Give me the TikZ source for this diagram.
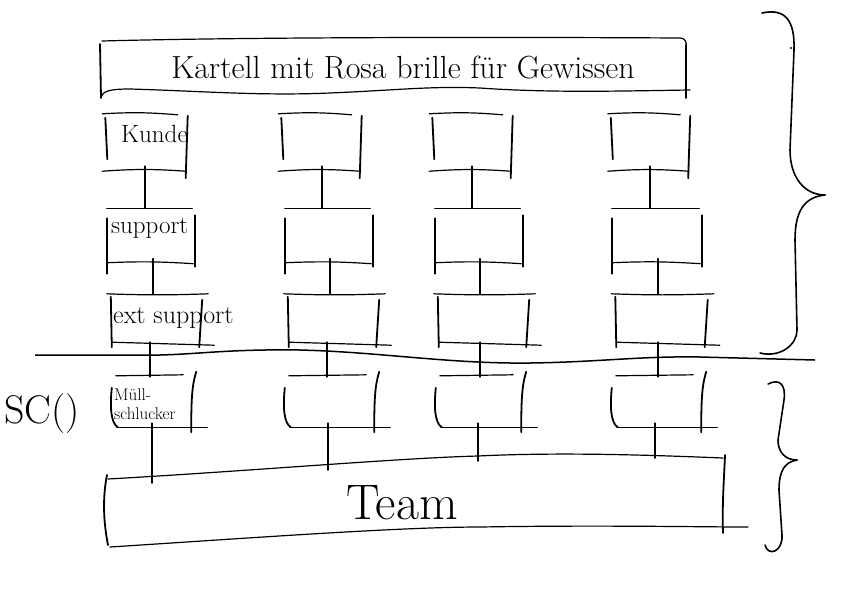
\documentclass[tikz,border=0pt]{standalone}
\usepackage{fontspec}
\newcommand{\sketchA}[1]{%
  \draw[hline] ([xshift=-2pt,yshift=1pt]#1.north west) to[bend left=4] ([xshift=-10pt]#1.north east);
  \draw[vline] ([xshift=1pt,yshift=-3pt]#1.north west) -- ([xshift=3pt,yshift=12pt]#1.south west);
  \draw[vline] ([yshift=-1pt]#1.north east) -- ([xshift=-2pt,yshift=-7pt]#1.south east);
  \draw[hline] ([xshift=-2pt]#1.south west) to[bend left=4] ([xshift=-2pt]#1.south east);}
\newcommand{\sketchB}[1]{%
  \draw[hline] ([xshift=0pt]#1.north west) -- ([xshift=-3pt]#1.north east);
  \draw[vline] ([yshift=-10pt]#1.north west) -- ([yshift=-10pt]#1.south west);
  \draw[vline] ([yshift=-7pt]#1.north east) -- ([yshift=-3pt]#1.south east);
  \draw[hline] ([xshift=1pt,yshift=1pt]#1.south west) to[bend left=3] ([xshift=-2pt]#1.south east);}
\newcommand{\sketchC}[1]{%
  \draw[hline] ([xshift=-3pt]#1.north west) to[bend right=2] ([xshift=6pt]#1.north east);
  \draw[vline] ([xshift=1pt,yshift=-3pt]#1.north west) -- ([xshift=2pt,yshift=-3pt]#1.south west);
  \draw[vline] ([yshift=-6pt]#1.north east) -- ([xshift=-3pt,yshift=-3pt]#1.south east);
  \draw[hline] ([xshift=2pt,yshift=2pt]#1.south west) -- ([xshift=12pt,yshift=-1pt]#1.south east);}
\newcommand{\sketchD}[1]{%
  \draw[hline] ([xshift=3pt,yshift=1pt]#1.north west) -- ([xshift=-10pt,yshift=2pt]#1.north east);
  \draw[vline] ([xshift=-1pt,yshift=-11pt]#1.north west) .. controls ([xshift=-3pt,yshift=-30pt]#1.north west) and ([xshift=-2pt,yshift=4pt]#1.south west) .. ([xshift=5pt]#1.south west);
  \draw[vline] ([xshift=3pt,yshift=5pt]#1.north east) .. controls ([xshift=-1pt,yshift=-8pt]#1.north east) and ([xshift=-2pt,yshift=-20pt]#1.north east) .. ([xshift=-2pt,yshift=-5pt]#1.south east);
  \draw[hline] ([xshift=4pt]#1.south west) -- ([xshift=14pt]#1.south east);}
\begin{document}
\begin{tikzpicture}[x=1pt,y=-1pt,
  hline/.style={line width=1.2pt,line cap=round},
  vline/.style={line width=1.8pt,line cap=round},
  cell/.style n args={2}{draw=none,inner sep=0pt,minimum width=#1pt,minimum height=#2pt},
  lbl/.style={inner sep=0pt,anchor=west,font=\fontsize{25}{27}\selectfont}]
\useasboundingbox (0,0) rectangle (842,595);

% header
\node[font=\fontsize{32}{34}\selectfont,inner sep=0pt] (head) at (403,68) {Kartell mit Rosa brille für Gewissen};
\draw[hline] (102,41) .. controls (250,37) and (500,37) .. (680,38) .. controls (685,38) and (687,42) .. (686,47);
\draw[vline] (100,44) -- (101,98);
\draw[vline] (686,45) -- (686,98);
\draw[hline] (101,97) .. controls (103,91) and (110,89) .. (130,89) .. controls (200,91) and (260,96) .. (330,93) .. controls (400,90) and (430,86) .. (480,88) .. controls (550,93) and (620,91) .. (690,90);

% boxes row 1
\node[cell={83}{56}] (k1) at (146,143) {};
\node[cell={81}{56}] (k2) at (321,143) {};
\node[cell={81}{56}] (k3) at (472,143) {};
\node[cell={80}{56}] (k4) at (650,143) {};
% row 2
\node[cell={88}{55}] (s1) at (151,236) {};
\node[cell={88}{55}] (s2) at (329,236) {};
\node[cell={88}{55}] (s3) at (479,236) {};
\node[cell={90}{55}] (s4) at (657,236) {};
% row 3
\node[cell={92}{50}] (e1) at (156,319) {};
\node[cell={92}{50}] (e2) at (333,319) {};
\node[cell={92}{50}] (e3) at (483,319) {};
\node[cell={93}{50}] (e4) at (661,319) {};
% row 4
\node[cell={80}{50}] (m1) at (153,402) {};
\node[cell={90}{50}] (m2) at (331,402) {};
\node[cell={86}{50}] (m3) at (480,402) {};
\node[cell={90}{50}] (m4) at (658,402) {};

\foreach \n in {k1,k2,k3,k4} {\sketchA{\n}}
\foreach \n in {s1,s2,s3,s4} {\sketchB{\n}}
\foreach \n in {e1,e2,e3,e4} {\sketchC{\n}}
\foreach \n in {m1,m2,m3,m4} {\sketchD{\n}}

% labels
\node[lbl] (lk) at (121,134) {Kunde};
\node[lbl] (ls) at (111,228) {support};
\node[lbl,font=\fontsize{26}{28}\selectfont] (le) at (113,318) {ext support};
\node[lbl,font=\fontsize{17}{19}\selectfont,align=left] (lm) at (114,404) {Müll-\\schlucker};
\node[inner sep=0pt,font=\fontsize{40}{42}\selectfont] (sco) at (42,414) {SC()};

% connectors k -> s -> e -> m
\foreach \c/\dx in {1/-1,2/1,3/0,4/0} {
  \draw[vline] ([xshift=\dx pt,yshift=5pt]k\c.south) -- ([xshift=\dx pt]k\c.south |- s\c.north);}
\foreach \c/\dx in {1/2,2/1,3/1,4/1} {
  \draw[vline] ([xshift=\dx pt,yshift=5pt]s\c.south) -- ([xshift=\dx pt]s\c.south |- e\c.north);}
\foreach \c/\dx in {1/-6,2/-6,3/-3,4/-3} {
  \draw[vline] ([xshift=\dx pt,yshift=2pt]e\c.south) -- ([xshift=\dx pt]e\c.south |- m\c.north);}

% divider
\draw[line width=1.5pt] (35,355) -- (160,355) .. controls (200,354) and (230,349) .. (300,350) .. controls (380,352) and (450,364) .. (530,363) .. controls (600,362) and (640,356) .. (700,357) -- (815,360);

% team
\coordinate (t1) at (152,483);
\coordinate (t2) at (328,470);
\coordinate (t3) at (478,461);
\coordinate (t4) at (655,458);
\node[inner sep=0pt,font=\fontsize{50}{52}\selectfont] (team) at (402,503) {Team};
\draw[hline] (108,479) .. controls (250,471) and (400,458) .. (478,456) .. controls (560,452) and (650,455) .. (723,458);
\draw[hline] (110,547) .. controls (250,538) and (400,527) .. (480,527) .. controls (600,525) and (700,527) .. (748,527);
\draw[vline] (107,475) .. controls (102,500) and (104,525) .. (108,545);
\draw[vline] (725,455) .. controls (724,480) and (722,505) .. (723,533);
\foreach \c in {1,2,3,4} {\draw[vline] ([yshift=4pt]m\c.south -| t\c) -- (t\c);}

% braces
\draw[line width=1.6pt,line cap=round] (762,13) .. controls (785,8) and (795,20) .. (794,50) -- (790,150) .. controls (790,178) and (805,195) .. (825,195);
\draw[line width=1.6pt,line cap=round] (825,195) .. controls (805,197) and (795,210) .. (795,240) -- (797,330) .. controls (797,345) and (780,358) .. (760,353);
\fill (791,48) circle (1.2pt);
\draw[line width=1.6pt,line cap=round] (768,384) .. controls (780,378) and (786,385) .. (784,400) -- (778,440) .. controls (778,452) and (785,460) .. (797,460);
\draw[line width=1.6pt,line cap=round] (797,460) .. controls (785,462) and (779,470) .. (779,490) -- (782,535) .. controls (783,552) and (768,557) .. (765,545);
\end{tikzpicture}
\end{document}
